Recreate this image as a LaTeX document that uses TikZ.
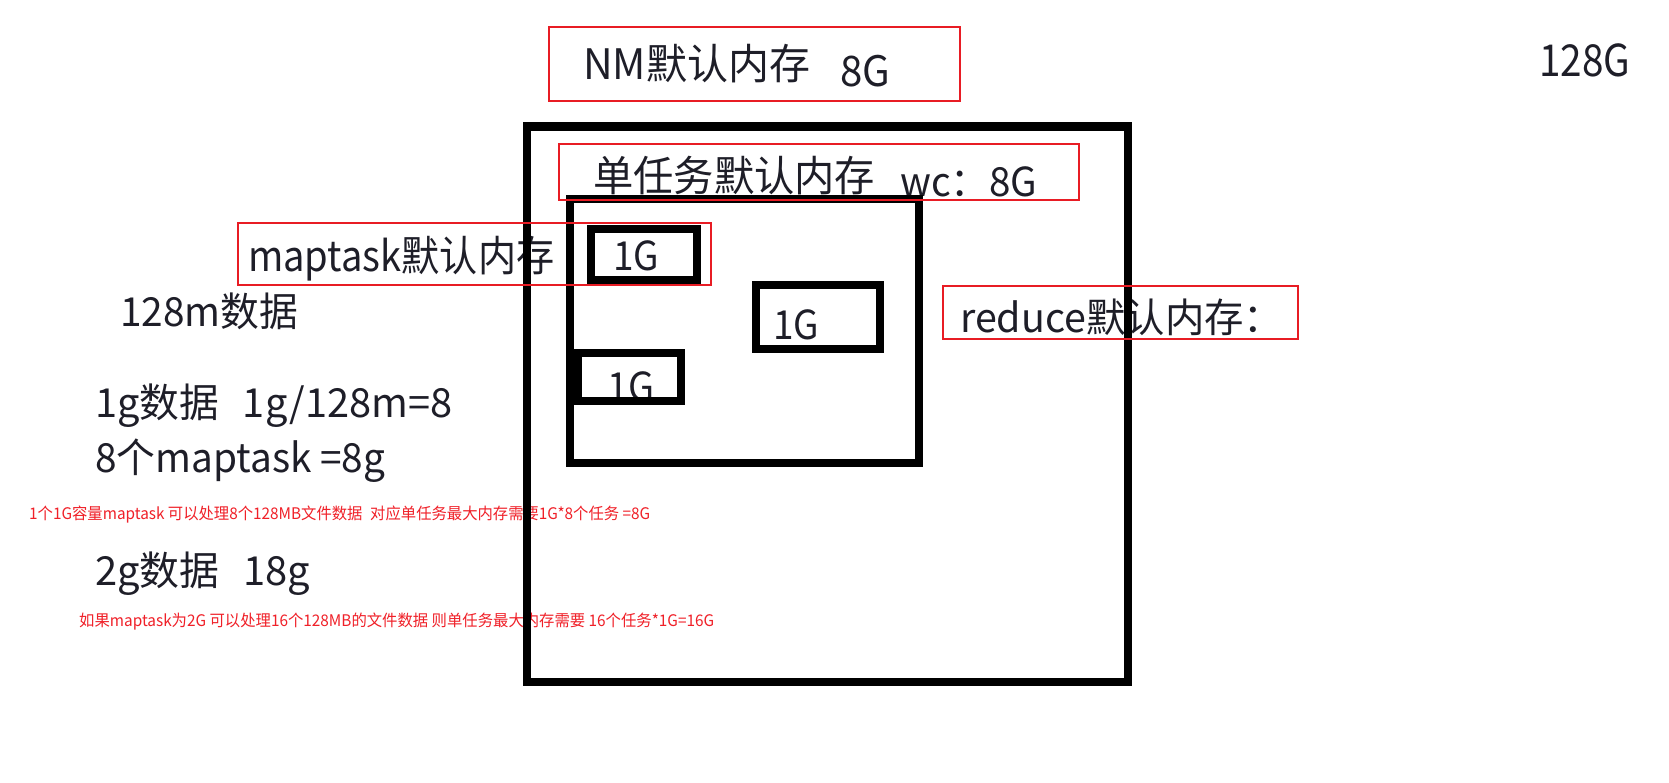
\documentclass[tikz,border=0pt]{standalone}
\usepackage{fontspec}
\setmainfont{Noto Sans CJK SC}
\usepackage{graphicx}
\definecolor{ink}{RGB}{30,30,40}
\definecolor{boxred}{RGB}{232,28,36}
\definecolor{txtred}{RGB}{240,32,40}
\newcommand\fitw[3]{\resizebox{#1pt}{\height}{\fontsize{#2}{#2}\selectfont #3}}
\tikzset{
  tx/.style={anchor=base west, inner sep=0pt, text=ink},
  rtx/.style={anchor=base west, inner sep=0pt, text=txtred},
  blk/.style={draw=black, line width=8.5pt, inner sep=0pt, minimum width=#1},
  rbx/.style={draw=boxred, line width=2pt, inner sep=0pt, minimum width=#1},
}
\begin{document}
\begin{tikzpicture}[x=1pt,y=-1pt]
\useasboundingbox (0,0) rectangle (1669,782);
\fill[white] (0,0) rectangle (1669,782);

% texts
\node[tx] (nmA) at (583,79) {\fitw{227}{42}{NM默认内存}};
\node[tx] (nmB) at (840,86) {\fitw{50}{42}{8G}};
\node[tx] (total) at (1539,76) {\fitw{91}{44}{128G}};
\node[tx] (taskA) at (593,191) {\fitw{282}{42}{单任务默认内存}};
\node[tx] (taskB) at (900,196) {\fitw{137}{40}{wc：8G}};
\node[tx] (mapt) at (248,271) {\fitw{306}{42}{maptask默认内存}};
\node[tx] (g1) at (613,270) {\fitw{46}{40}{1G}};
\node[tx] (g2) at (773,339) {\fitw{46}{40}{1G}};
\node[tx] (g3) at (607,401) {\fitw{47}{40}{1G}};
\node[tx] (red) at (960,332) {\fitw{323}{40}{reduce默认内存：}};
\node[tx] (l1) at (120,326) {\fitw{178}{40}{128m数据}};
\node[tx] (l2) at (95,417) {\fitw{357}{40}{1g数据\hspace{0.6em}1g/128m=8}};
\node[tx] (l3) at (95,472) {\fitw{290}{40}{8个maptask =8g}};
\node[tx] (l4) at (95,585) {\fitw{215}{40}{2g数据\hspace{0.6em}18g}};
\node[rtx] (n1) at (29,519) {\fitw{621}{16}{1个1G容量maptask 可以处理8个128MB文件数据\hspace{0.5em}对应单任务最大内存需要1G*8个任务 =8G}};
\node[rtx] (n2) at (79,626) {\fitw{635}{16}{如果maptask为2G 可以处理16个128MB的文件数据 则单任务最大内存需要 16个任务*1G=16G}};

% black boxes
\node[blk=601pt, minimum height=555.5pt] (outer) at (827.5,404.25) {};
\node[blk=349pt, minimum height=264pt, line width=8pt] (inner) at (744.5,331) {};
\node[blk=106pt, minimum height=51pt, line width=8pt] (b1) at (644,254.5) {};
\node[blk=124pt, minimum height=64pt, line width=8pt] (b2) at (818,317) {};
\node[blk=103pt, minimum height=47.5pt, line width=8pt] (b3) at (629,376.75) {};

% red boxes
\node[rbx=411pt, minimum height=74pt] (rnm) at (754.5,64) {};
\node[rbx=520pt, minimum height=56pt] (rtask) at (819,172) {};
\node[rbx=473pt, minimum height=62pt] (rmap) at (474.5,254) {};
\node[rbx=355pt, minimum height=53pt] (rred) at (1120.5,312.5) {};
\end{tikzpicture}
\end{document}
